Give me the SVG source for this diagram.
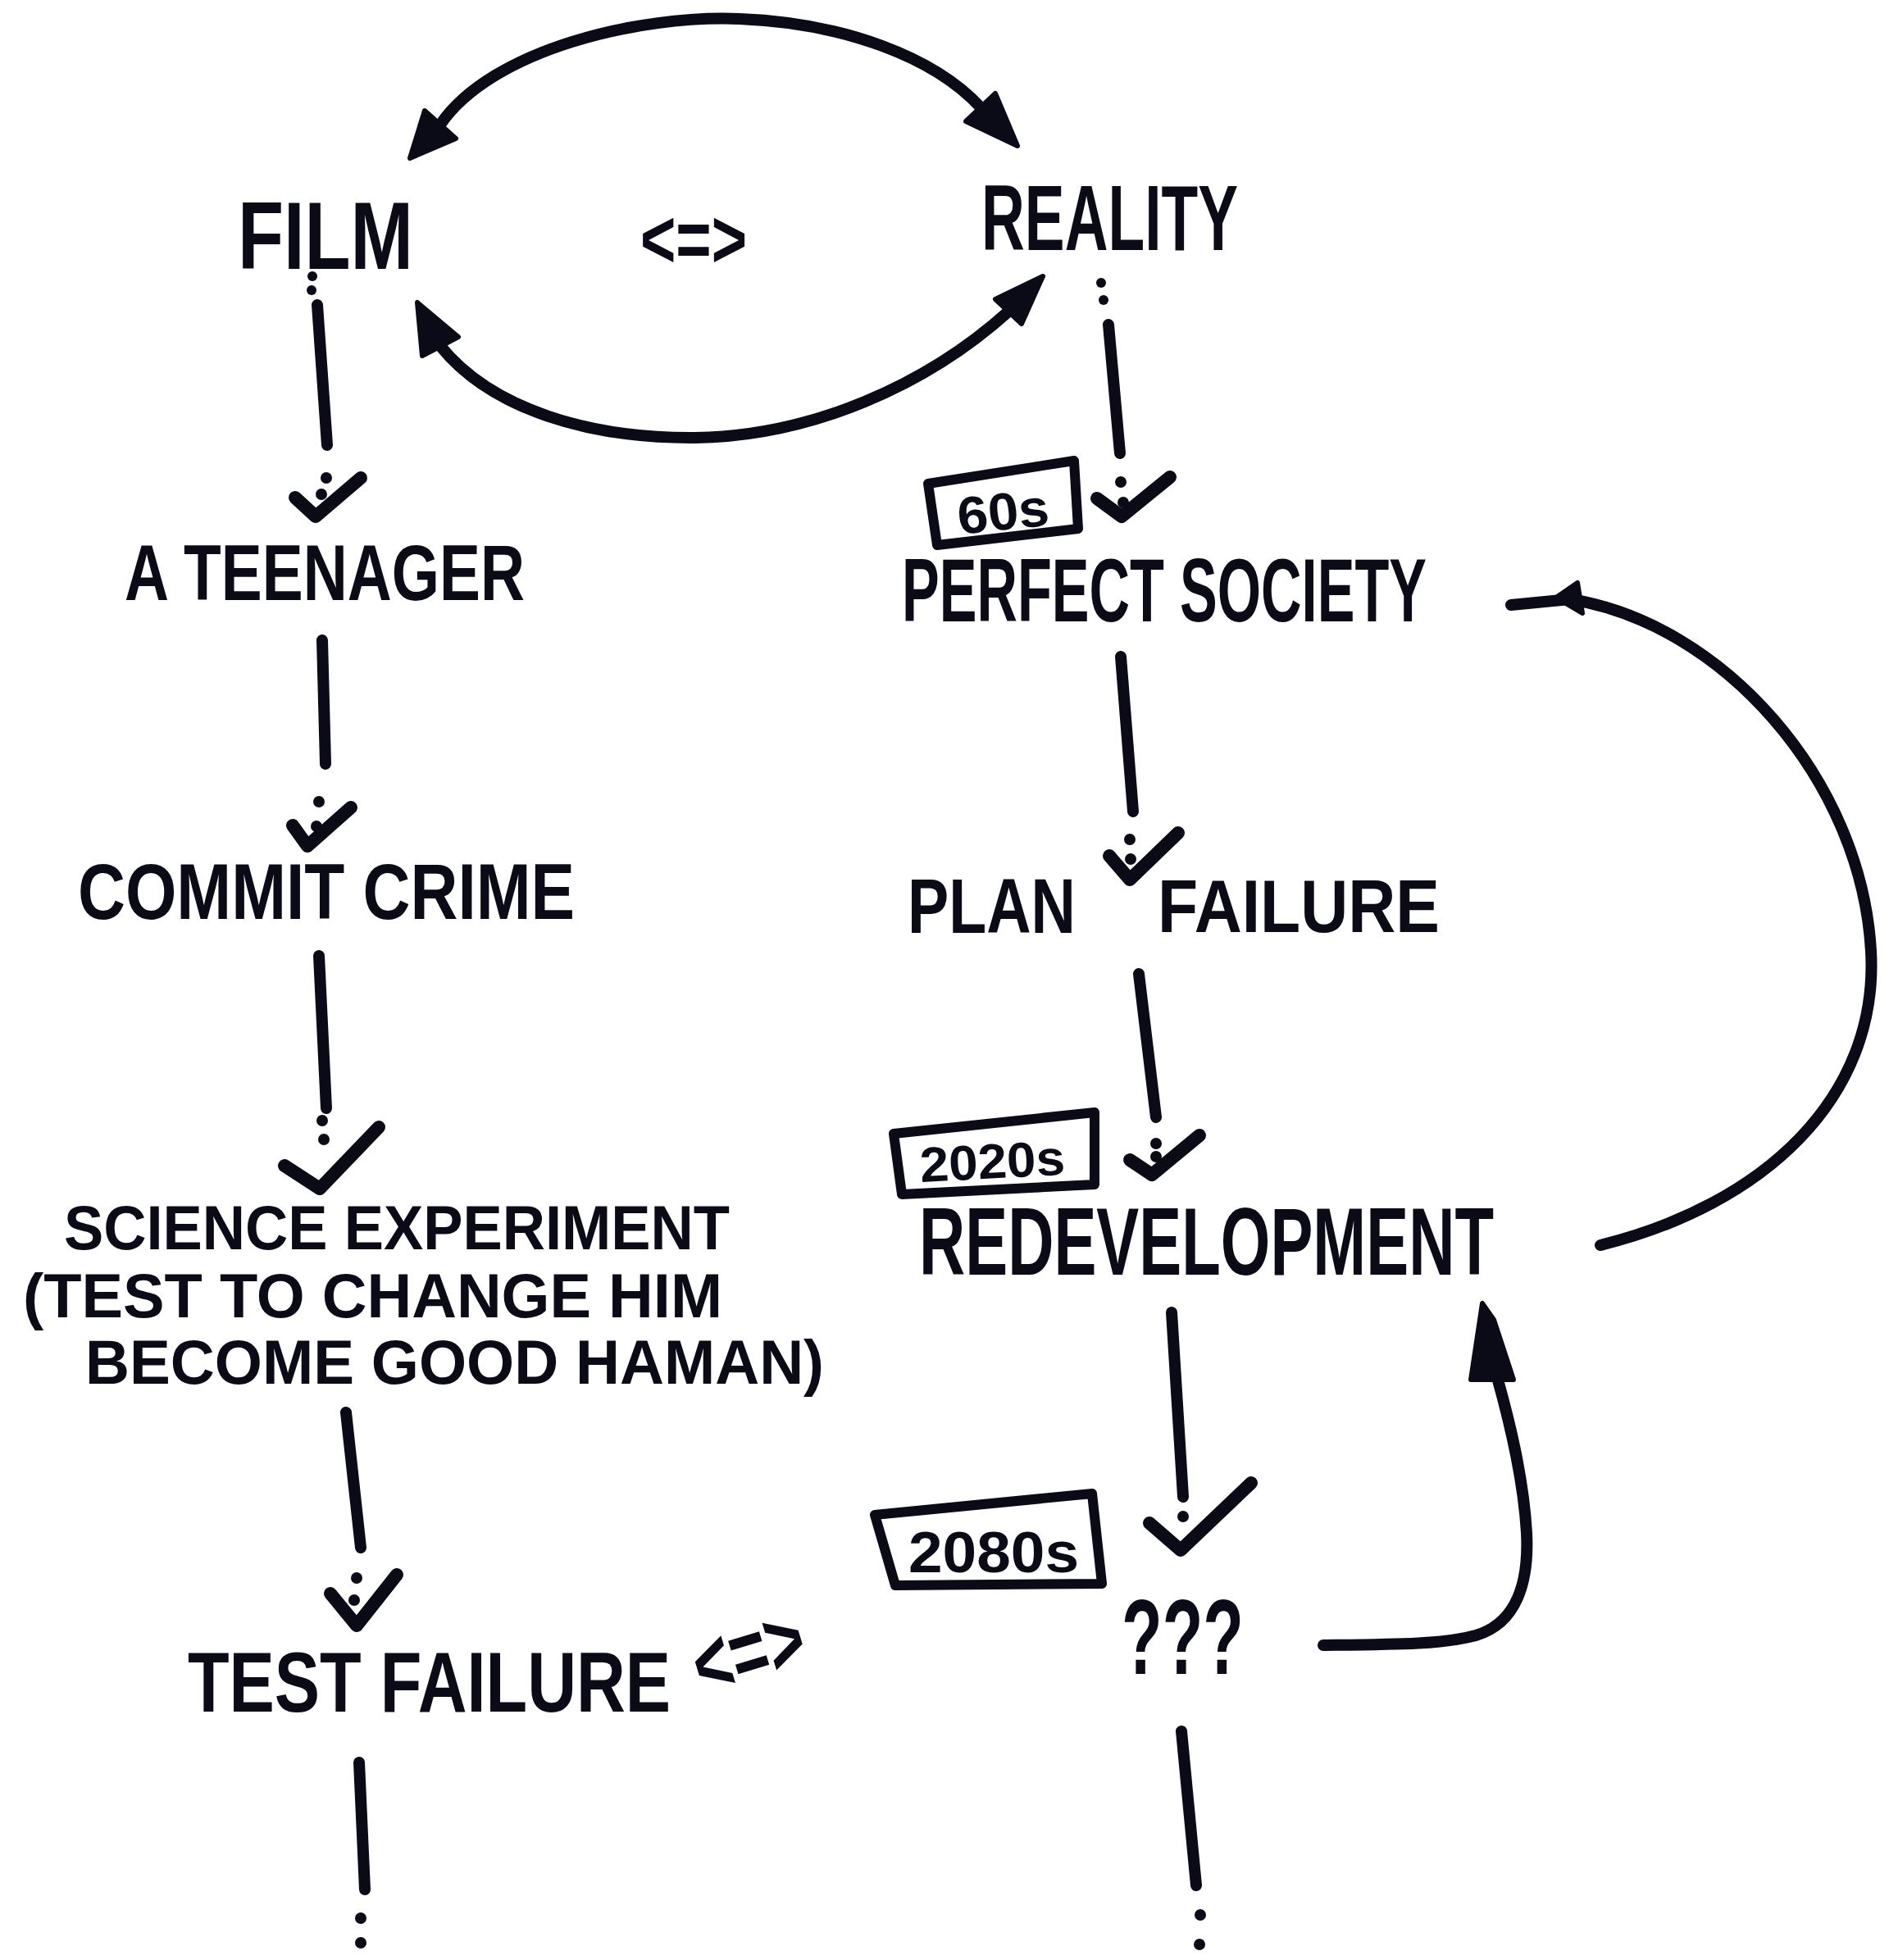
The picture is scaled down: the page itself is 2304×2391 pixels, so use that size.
<svg xmlns="http://www.w3.org/2000/svg" width="2304" height="2391" viewBox="0 0 2304 2391">
<style>
.bg{fill:#ffffff}
.t{font-family:"Liberation Sans","DejaVu Sans",sans-serif;font-weight:700;fill:#0b0b17}
.ln{fill:none;stroke:#0b0b17;stroke-width:14;stroke-linecap:round;stroke-linejoin:round}
.ck{fill:none;stroke:#0b0b17;stroke-width:16;stroke-linecap:round;stroke-linejoin:round}
.bx{fill:none;stroke:#0b0b17;stroke-width:12;stroke-linejoin:round}
.hd{fill:#0b0b17;stroke:#0b0b17;stroke-width:6;stroke-linejoin:round}
.dt{fill:#0b0b17}
</style>
<rect class="bg" x="0" y="0" width="2304" height="2391"/>

<g id="connectors">
  <!-- top and bottom arcs between FILM and REALITY -->
  <path class="ln" d="M537,152 C600,60 780,18 902,23 C1030,28 1140,70 1196,131"/>
  <polygon class="hd" points="500,193 518,135 556,169"/>
  <polygon class="hd" points="1241,178 1178,148 1214,114"/>
  <path class="ln" d="M537,422 C600,500 720,535 848,534 C990,532 1130,470 1230,380"/>
  <polygon class="hd" points="509,369 515,434 559,411"/>
  <polygon class="hd" points="1272,337 1214,365 1246,395"/>

  <!-- left column -->
  <circle class="dt" cx="381" cy="337" r="6"/><circle class="dt" cx="380" cy="354" r="6"/>
  <path class="ln" d="M387,372 L399,543"/>
  <circle class="dt" cx="398" cy="583" r="7"/>
  <path class="ck" d="M360,607 L385,630 L440,583"/><circle class="dt" cx="392" cy="603" r="7"/>

  <path class="ln" d="M393,781 L397,932"/>
  <circle class="dt" cx="389" cy="978" r="7"/>
  <path class="ck" d="M357,1007 L375,1032 L428,985"/><circle class="dt" cx="386" cy="1008" r="7"/>

  <path class="ln" d="M389,1166 L398,1352"/>
  <circle class="dt" cx="393" cy="1367" r="7"/><circle class="dt" cx="395" cy="1390" r="7"/>
  <path class="ck" d="M347,1422 L390,1450 L462,1375"/>

  <path class="ln" d="M422,1723 L440,1888"/>
  <circle class="dt" cx="435" cy="1925" r="7"/>
  <path class="ck" d="M403,1944 L435,1983 L484,1921"/><circle class="dt" cx="432" cy="1952" r="7"/>

  <path class="ln" d="M438,2150 L445,2305"/>
  <circle class="dt" cx="440" cy="2340" r="7"/><circle class="dt" cx="440" cy="2370" r="7"/>

  <!-- right column -->
  <circle class="dt" cx="1343" cy="345" r="6"/><circle class="dt" cx="1346" cy="366" r="6"/>
  <path class="ln" d="M1352,396 L1366,553"/>
  <circle class="dt" cx="1367" cy="588" r="7"/>
  <path class="ck" d="M1338,608 L1368,630 L1427,582"/><circle class="dt" cx="1370" cy="613" r="7"/>

  <path class="ln" d="M1367,801 L1382,990"/>
  <circle class="dt" cx="1378" cy="1024" r="7"/>
  <path class="ck" d="M1353,1044 L1378,1073 L1437,1016"/><circle class="dt" cx="1379" cy="1048" r="7"/>

  <path class="ln" d="M1389,1188 L1410,1363"/>
  <circle class="dt" cx="1410" cy="1395" r="7"/>
  <path class="ck" d="M1378,1415 L1405,1433 L1463,1385"/><circle class="dt" cx="1410" cy="1411" r="7"/>

  <path class="ln" d="M1429,1601 L1443,1826"/>
  <circle class="dt" cx="1443" cy="1850" r="7"/>
  <path class="ck" d="M1402,1858 L1440,1891 L1526,1809"/>

  <path class="ln" d="M1441,2112 L1459,2300"/>
  <circle class="dt" cx="1464" cy="2336" r="7"/><circle class="dt" cx="1463" cy="2372" r="7"/>

  <!-- REDEVELOPMENT back to PERFECT SOCIETY -->
  <path class="ln" d="M1952,1519 C2150,1470 2292,1340 2282,1160 C2270,950 2100,760 1915,731 L1843,738"/>
  <polygon class="hd" points="1898,729 1924,711 1930,748"/>

  <!-- ??? back to REDEVELOPMENT -->
  <path class="ln" d="M1614,2007 C1700,2006 1760,2006 1800,1995 C1850,1980 1865,1930 1862,1870 C1858,1800 1840,1730 1826,1680"/>
  <polygon class="hd" points="1808,1590 1794,1683 1846,1683 1822,1610"/>
</g>

<g id="node-film"><text class="t" x="290" y="328" font-size="116" textLength="214" lengthAdjust="spacingAndGlyphs">FILM</text></g>
<g id="node-equiv-top"><text class="t" x="781" y="326" font-size="100" textLength="130" lengthAdjust="spacingAndGlyphs">&lt;=&gt;</text></g>
<g id="node-reality"><text class="t" x="1197" y="305" font-size="114" textLength="313" lengthAdjust="spacingAndGlyphs">REALITY</text></g>

<g id="node-teenager"><text class="t" x="152" y="732" font-size="96" textLength="488" lengthAdjust="spacingAndGlyphs">A TEENAGER</text></g>
<g id="node-commit"><text class="t" x="95" y="1121" font-size="96" textLength="606" lengthAdjust="spacingAndGlyphs">COMMIT CRIME</text></g>
<g id="node-science">
  <text class="t" x="78" y="1524" font-size="76" textLength="812" lengthAdjust="spacingAndGlyphs">SCIENCE EXPERIMENT</text>
  <text class="t" x="28" y="1607" font-size="76" textLength="853" lengthAdjust="spacingAndGlyphs">(TEST TO CHANGE HIM</text>
  <text class="t" x="104" y="1688" font-size="76" textLength="901" lengthAdjust="spacingAndGlyphs">BECOME GOOD HAMAN)</text>
</g>
<g id="node-testfailure"><text class="t" x="229" y="2088" font-size="104" textLength="589" lengthAdjust="spacingAndGlyphs">TEST FAILURE</text></g>
<g id="node-equiv-bottom"><text class="t" x="0" y="0" font-size="112" textLength="138" lengthAdjust="spacingAndGlyphs" transform="translate(858,2072) rotate(-17)">&lt;=&gt;</text></g>

<g id="tag-60s">
  <polygon class="bx" points="1132,590 1310,562 1315,645 1143,665"/>
  <text class="t" x="0" y="0" font-size="64" textLength="112" lengthAdjust="spacingAndGlyphs" transform="translate(1170,652) rotate(-6)">60s</text>
</g>
<g id="node-perfect"><text class="t" x="1100" y="758" font-size="110" textLength="640" lengthAdjust="spacingAndGlyphs">PERFECT SOCIETY</text></g>
<g id="node-plan">
  <text class="t" x="1107" y="1138" font-size="94" textLength="205" lengthAdjust="spacingAndGlyphs">PLAN</text>
  <text class="t" x="1412" y="1137" font-size="90" textLength="344" lengthAdjust="spacingAndGlyphs">FAILURE</text>
</g>
<g id="tag-2020s">
  <polygon class="bx" points="1090,1383 1335,1357 1335,1445 1100,1457"/>
  <text class="t" x="0" y="0" font-size="60" textLength="177" lengthAdjust="spacingAndGlyphs" transform="translate(1123,1442) rotate(-3)">2020s</text>
</g>
<g id="node-redev"><text class="t" x="1121" y="1555" font-size="116" textLength="701" lengthAdjust="spacingAndGlyphs">REDEVELOPMENT</text></g>
<g id="tag-2080s">
  <polygon class="bx" points="1067,1848 1332,1822 1344,1932 1092,1934"/>
  <text class="t" x="1108" y="1918" font-size="70" textLength="208" lengthAdjust="spacingAndGlyphs">2080s</text>
</g>
<g id="node-unknown"><text class="t" x="1368" y="2042" font-size="130" textLength="149" lengthAdjust="spacingAndGlyphs">???</text></g>
</svg>
